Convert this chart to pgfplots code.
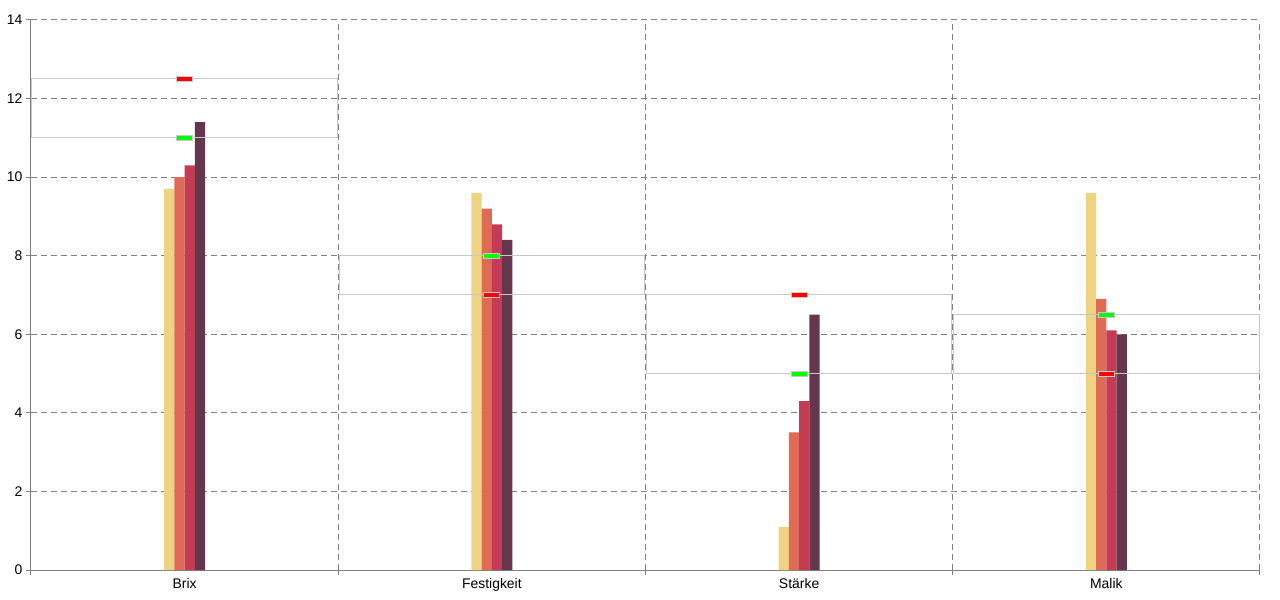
\documentclass[border=0pt]{standalone}
\usepackage{fontspec}
\setmainfont{Liberation Sans}
\usepackage{pgfplots}
\pgfplotsset{compat=1.18}
\definecolor{cY}{RGB}{237,211,130}
\definecolor{cO}{RGB}{221,107,85}
\definecolor{cR}{RGB}{197,59,85}
\definecolor{cD}{RGB}{101,55,77}
\definecolor{gridc}{RGB}{128,128,128}
\definecolor{bandc}{RGB}{200,200,200}
\definecolor{mgreen}{RGB}{0,255,0}
\definecolor{mred}{RGB}{255,0,0}
\pgfdeclareplotmark{hbar}{\pgfpathrectangle{\pgfpoint{-8bp}{-2.5bp}}{\pgfpoint{16bp}{5bp}}\pgfusepathqfillstroke}
\begin{document}
\begin{tikzpicture}
\useasboundingbox (-31bp,-30bp) rectangle (1249bp,570bp);
\begin{axis}[
  at={(0,0)}, anchor=south west,
  scale only axis, width=1229bp, height=550bp,
  xmin=0, xmax=4, ymin=0, ymax=14,
  axis lines*=left,
  axis line style={gridc, line width=1bp},
  xtick={0,1,2,3,4},
  xticklabels={Brix,Festigkeit,Stärke,Malik},
  x tick label as interval,
  ytick={0,2,...,14},
  grid=major,
  major grid style={gridc, line width=1bp, dash pattern=on 6bp off 4bp},
  tick align=outside, major tick length=5bp,
  tick style={gridc, line width=1bp},
  ticklabel style={font=\fontsize{14}{16}\selectfont, text=black},
  /pgf/number format/assume math mode=true,
  clip=false,
]
\addplot[ybar, bar width=10.25bp, bar shift=-15.375bp, fill=cY, draw=none] coordinates {(0.5,9.7)(1.5,9.6)(2.5,1.1)(3.5,9.6)};
\addplot[ybar, bar width=10.25bp, bar shift=-5.125bp, fill=cO, draw=none] coordinates {(0.5,10.0)(1.5,9.2)(2.5,3.5)(3.5,6.9)};
\addplot[ybar, bar width=10.25bp, bar shift=5.125bp, fill=cR, draw=none] coordinates {(0.5,10.3)(1.5,8.8)(2.5,4.3)(3.5,6.1)};
\addplot[ybar, bar width=10.25bp, bar shift=15.375bp, fill=cD, draw=none] coordinates {(0.5,11.4)(1.5,8.4)(2.5,6.5)(3.5,6.0)};
\addplot[draw=bandc, line width=1bp, mark=none] coordinates {(0.003,11)(0.997,11)(0.997,12.5)(0.003,12.5)(0.003,11)};
\addplot[draw=bandc, line width=1bp, mark=none] coordinates {(1.003,7)(1.997,7)(1.997,8)(1.003,8)(1.003,7)};
\addplot[draw=bandc, line width=1bp, mark=none] coordinates {(2.003,5)(2.997,5)(2.997,7)(2.003,7)(2.003,5)};
\addplot[draw=bandc, line width=1bp, mark=none] coordinates {(3.003,5)(3.997,5)(3.997,6.5)(3.003,6.5)(3.003,5)};
\addplot[only marks, mark=hbar, mark options={fill=mred, draw=bandc, line width=1bp}] coordinates {(0.5,12.5)(1.5,7)(2.5,7)(3.5,5)};
\addplot[only marks, mark=hbar, mark options={fill=mgreen, draw=bandc, line width=1bp}] coordinates {(0.5,11)(1.5,8)(2.5,5)(3.5,6.5)};
\end{axis}
\end{tikzpicture}
\end{document}
